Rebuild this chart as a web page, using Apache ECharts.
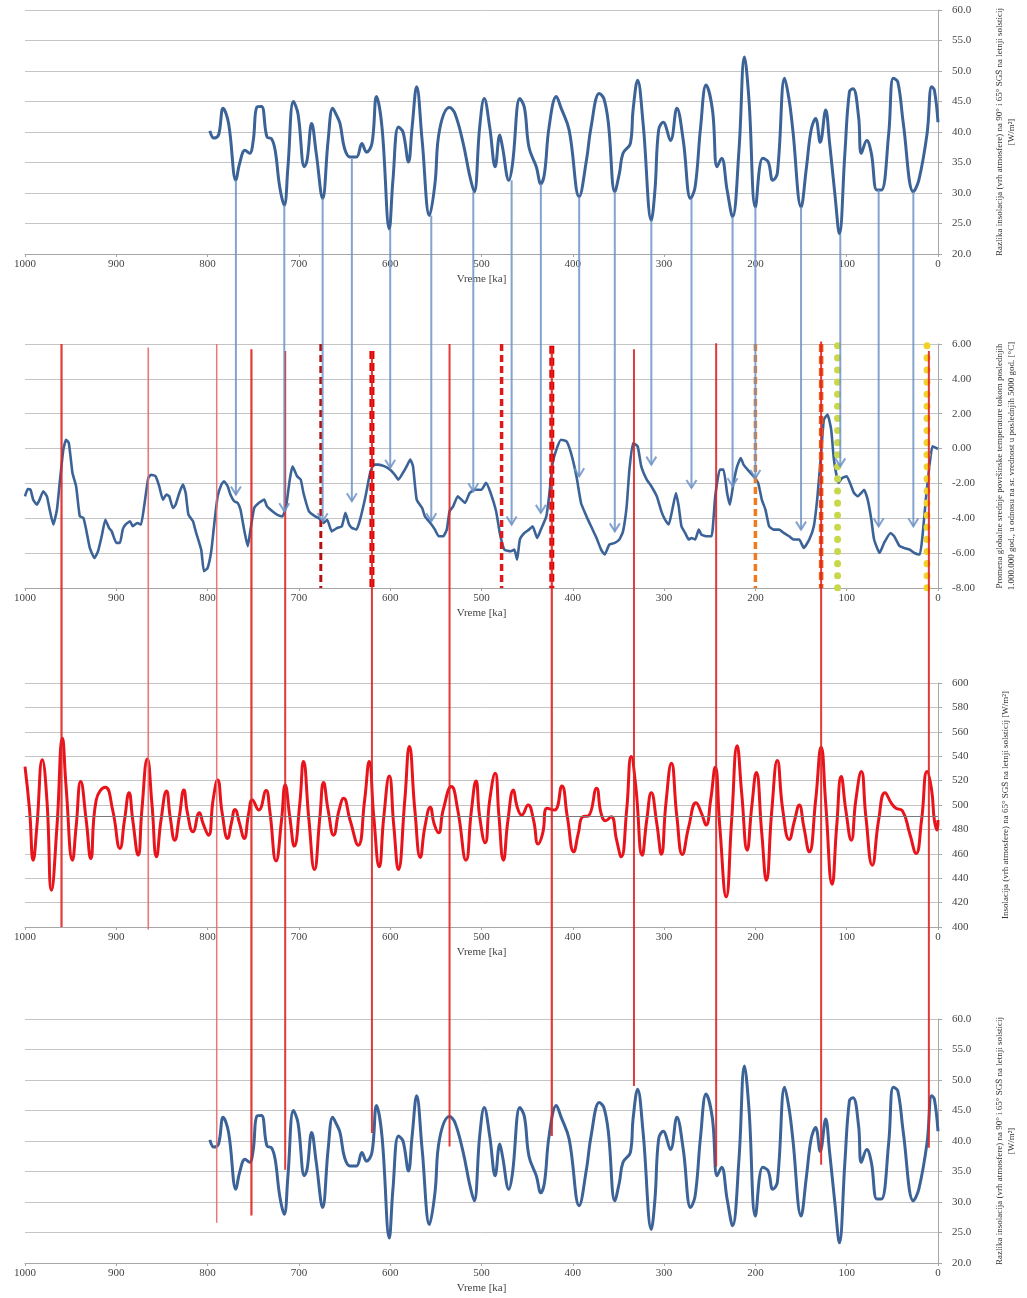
<!DOCTYPE html>
<html><head><meta charset="utf-8">
<script src="https://cdn.jsdelivr.net/npm/echarts@6/dist/echarts.min.js"></script>
<style>html,body{margin:0;padding:0;background:#fff}#c{width:1027px;height:1298px}</style>
</head><body><div id="c"></div>
<script>
// ---------- DATA ----------
// Insolation difference 90N-65N (panel 1 and panel 4)
const diffKa = [797.5,793,788,783,777,769,765,759,754,750,746,741,735,730,726,721,716,712,706,701,694,691,686,681,674,668,663,659,655,650,644,637,631,626,620,615,609,601,597,591,586,580,576,571,565,557,551,546,535,529,520,513,508,502,497,491,485,480,477,470,466,458,453,448,440,435,431,426,418,413,404,393,385,380,371,366,361,354,349,345,337,334,329,323,314,310,306,301,293,286,279,271,266,260,254,247,242,237,231,225,218,212,207,200,192,186,181,176,168,163,159,150,144,139,134,129,123,119,113,108,102,97,93,87,84,78,73,67,62,54,49,44,38,27,21,12,7,4,0];
const diffVal = [40.2,39.0,39.5,43.9,41.4,32.1,34.8,37.0,36.5,38.6,44.1,44.2,39.2,38.9,37.0,31.0,28.0,34.3,45.0,43.0,34.3,35.4,41.4,36.5,29.1,38.6,43.9,42.8,41.4,37.3,35.9,35.9,38.1,36.7,38.1,45.8,40.8,24.1,32.1,40.8,40.0,35.1,40.8,47.4,38.6,26.3,31.5,40.3,44.0,43.0,38.1,32.9,30.2,40.8,45.5,40.8,34.3,39.5,37.5,32.1,34.8,45.5,44.0,37.5,34.3,31.5,33.2,40.8,45.8,44.0,40.3,29.4,35.4,40.8,46.3,45.5,41.4,30.2,33.2,36.5,38.1,43.6,48.5,41.4,25.5,30.5,40.3,41.6,38.6,43.9,38.6,29.1,31.0,40.8,47.7,43.6,34.3,35.7,30.5,26.1,37.0,52.3,45.2,27.7,35.7,35.1,32.1,33.2,48.8,45.2,40.3,27.7,34.3,40.3,42.2,38.3,43.6,38.6,29.9,23.3,36.5,46.6,47.1,42.5,36.5,38.6,36.5,30.5,30.5,39.7,48.8,48.2,41.4,30.2,32.1,39.7,47.4,46.9,41.6];

// Global mean surface temperature change (panel 2)
const tempKa = [1000,997,994,991,987,984,980,976,973,969,965,962,958,955,952,948,944,940,936,933,929,924,920,916,912,908,905,900,896,893,890,885,882,877,873,869,865,862,857,853,849,845,842,838,835,831,827,824,821,816,813,807,804,800,796,793,789,785,782,778,775,771,767,764,760,756,753,749,744,738,735,729,724,718,714,710,707,702,698,695,689,682,676,673,669,664,658,653,649,645,642,637,633,627,622,618,613,606,600,595,591,585,582,578,575,571,565,562,556,551,547,542,538,535,531,526,522,518,513,507,500,495,490,484,480,475,468,464,461,458,453,448,444,439,435,429,426,422,418,413,407,402,396,391,385,380,374,369,365,360,354,349,345,341,338,334,329,325,319,314,308,303,299,295,291,287,284,281,277,273,270,266,262,259,253,248,244,239,235,231,228,224,220,216,213,207,202,197,193,189,185,180,174,169,163,158,152,147,141,136,132,128,125,121,117,114,109,105,100,95,92,88,84,81,77,73,70,64,59,52,48,42,37,31,26,20,17,13,9,6,0];
const tempVal = [-2.74,-2.32,-2.36,-2.93,-3.22,-2.93,-2.45,-2.74,-3.5,-4.36,-3.5,-1.97,-0.06,0.51,0.32,-1.4,-2.16,-3.88,-3.98,-4.65,-5.7,-6.28,-5.89,-5.03,-4.08,-4.55,-4.75,-5.41,-5.41,-4.65,-4.36,-4.17,-4.46,-4.27,-4.36,-3.12,-1.69,-1.5,-1.59,-2.16,-2.93,-2.64,-2.74,-3.41,-3.22,-2.55,-2.07,-2.55,-3.79,-4.17,-4.75,-5.8,-7.04,-6.85,-5.89,-4.46,-2.74,-2.07,-1.88,-2.16,-2.64,-3.02,-3.12,-3.5,-4.65,-5.6,-4.65,-3.41,-3.12,-2.93,-3.31,-3.6,-3.79,-3.89,-3.31,-1.78,-1.02,-1.59,-1.78,-2.55,-3.6,-3.89,-4.08,-4.27,-4.08,-4.75,-4.55,-4.46,-3.69,-4.36,-4.55,-4.65,-4.08,-2.74,-1.4,-0.92,-0.92,-1.02,-1.21,-1.5,-1.78,-1.3,-1.02,-0.63,-1.02,-2.93,-3.41,-3.89,-4.27,-4.65,-5.03,-5.03,-4.65,-3.6,-3.31,-2.74,-2.93,-3.12,-2.55,-2.36,-2.36,-1.97,-2.55,-3.6,-4.84,-5.8,-5.89,-5.8,-6.37,-5.22,-4.84,-4.65,-4.46,-5.13,-4.65,-3.89,-2.74,-0.82,-0.06,0.51,0.42,-0.25,-1.59,-3.12,-3.89,-4.46,-5.13,-5.8,-6.08,-5.51,-5.41,-5.22,-4.75,-3.31,-1.21,0.32,0.13,-1.02,-1.78,-2.16,-2.74,-3.6,-4.08,-4.36,-3.5,-2.55,-3.31,-4.46,-4.84,-5.22,-5.13,-5.22,-4.65,-4.94,-5.03,-5.03,-2.74,-1.21,-1.21,-2.55,-3.22,-1.97,-1.02,-0.54,-0.92,-1.3,-1.59,-1.97,-2.93,-3.5,-4.46,-4.65,-4.65,-4.84,-5.03,-5.22,-5.22,-5.7,-5.22,-4.46,-2.74,-0.25,1.66,1.95,1.09,-0.63,-1.97,-1.69,-1.59,-2.16,-2.55,-2.74,-2.55,-2.36,-2.93,-4.08,-5.22,-5.99,-5.41,-4.84,-5.03,-5.6,-5.7,-5.8,-5.99,-6.08,-5.03,-2.74,-0.82,0.13,-0.02];

// Insolation at 65N, summer solstice (panel 3)
const insKa = [1000,995,991,987,981,976,971,965,959,955,948,944,939,933,928,922,912,904,896,891,886,882,876,872,866,861,856,851,845,841,836,831,826,822,816,809,805,799,794,789,784,778,774,770,765,760,755,751,744,736,732,725,719,715,710,705,699,695,689,683,677,673,668,662,656,651,644,635,628,623,618,612,607,601,596,591,584,579,573,567,562,556,552,547,542,533,526,517,511,506,502,496,491,485,481,476,471,465,461,456,449,443,438,433,428,420,412,406,399,394,389,383,374,369,364,358,352,347,341,336,331,324,319,314,308,303,298,292,286,280,273,265,259,254,249,244,239,232,226,220,215,209,204,199,193,188,182,176,170,163,157,152,147,141,134,128,123,116,111,106,101,95,90,84,79,72,65,58,51,46,39,31,24,18,12,7,4,1,0];
const insVal = [531.5,495.9,454.8,482.2,537,504.1,430.1,482.2,554.8,515.1,454.8,482.2,519.2,487.7,456.2,504.1,514.5,495.9,464.4,487.7,510.1,487.7,458.9,495.9,537.8,501.4,457.5,487.7,511.5,490.4,471.2,490.4,512.3,493.2,478.1,493.7,484.9,475.3,504.1,520.5,493.2,472.6,484.9,496.4,484.9,472.6,493.2,504.1,495.9,511.8,495.9,454.2,487.7,516.4,490.4,466.3,501.4,535.6,487.7,447.1,490.4,518.4,495.9,475.3,495.9,505.5,487.7,467.1,504.1,535.6,490.4,449.3,490.4,523.8,482.2,447.1,504.1,547.9,495.9,457,482.2,498.1,484.9,477.3,495.9,515.1,495.9,454.8,495.9,519.7,490.4,469,504.1,526,492,454.8,487.7,512.3,498.6,491.8,500,487.7,468,476.7,497.3,495.9,515.6,490.4,461.6,476.7,490.4,491,513.7,493.2,487.1,490.4,471.2,457.5,495.9,539.7,515.1,458.9,487.7,510.1,484.9,459.7,501.4,534.2,490.4,459.5,482.2,501.9,493.2,483.6,504.1,531,482.2,424.7,487.7,548.5,509.6,463,498.6,526.6,476.7,438.4,495.9,536.4,495.9,471.8,487.7,500,482.2,461.6,504.1,547.4,501.4,435.1,482.2,523.3,495.9,471.2,504.1,527.4,490.4,450.7,487.7,510.1,501.4,497.3,495.3,476.7,460.3,487.7,527.4,512.3,487.7,479.5,487.7];
const insRefLine = 491;

// Blue arrows: insolation-difference minima (panel 1) -> temperature (panel 2)
const arrowKa   = [769,716,674,642,600,555,509,467,435,393,354,314,270,225,200,150,107,65,27];
const arrowFrom = [32.1,28.0,29.1,35.6,24.1,26.3,30.2,32.1,31.5,29.4,30.2,25.5,29.1,26.1,27.7,27.7,23.3,30.5,30.2];
const arrowTo   = [-2.64,-3.6,-4.17,-3.02,-1.1,-4.17,-2.45,-4.36,-3.69,-1.59,-4.75,-0.92,-2.26,-2.16,-1.69,-4.65,-1.02,-4.46,-4.46];

// Red vertical links: start in panel 2 (temperature), end in panel 3 (insolation) or panel 4 (difference)
const redKa      = [960,865,790,752,715,620,535,423,333,243,128,10];
const redStart   = [6.0,5.8,6.0,5.7,5.6,5.6,6.0,5.8,5.7,6.05,6.15,5.6];
const redEndGrid = [2,2,3,3,3,3,3,3,3,3,3,3];
const redEnd     = [400,398,26.6,27.8,35.3,41.3,39.1,40.8,49.0,35.8,36.1,38.9];
const redWidth   = [2.2,1.6,1.5,2.2,2,2,2,2.2,2,2,2,2];
const redColor   = ['#e02424','#ea6a6a','#ea6a6a','#e02424','#e02424','#e02424','#e02424','#e02424','#e02424','#e02424','#e02424','#e02424'];

// Dashed/dotted markers in panel 2
const markKa    = [676,620,478,423,200,128,110,12];
const markTop   = [6,5.6,6,5.9,6,6,5.9,5.9];
const markColor = ['#b81010','#e00000','#e01818','#e00000','#f07a20','#f05a14','#c8d84a','#f2d22a'];
const markWidth = [3,5,3.5,5,3.5,4.5,7,7];
const markDash  = [[7,4],[8,4],[7,4],[8,4],[7,4],[8,4],[0.1,12],[0.1,12]];

// Axis texts
const xName = 'Vreme [ka]';
const yName1 = 'Razlika insolacija (vrh atmosfere) na 90° i 65° SGŠ na letnji solsticij\n[W/m²]';
const yName2 = 'Promena globalne srednje površinske temperature tokom poslednjih\n1.000.000 god., u odnosu na sr. vrednost u poslednjih 5000 god. [°C]';
const yName3 = 'Insolacija (vrh atmosfere) na 65° SGŠ na letnji solsticij [W/m²]';

// ---------- CHART ----------
const FONT = "'Liberation Serif','Times New Roman',serif";
const zip = (a, b) => a.map((v, i) => [v, b[i]]);
const tops = [10, 344, 683, 1019];
const H = 244;

const grids = tops.map(t => ({ left: 25, right: 89, top: t, height: H, containLabel: false, outerBoundsMode: 'none' }));
const xAxes = tops.map((t, i) => ({
  gridIndex: i, type: 'value', min: 0, max: 1000, interval: 100, inverse: true,
  name: xName, nameLocation: 'middle', nameGap: 20,
  nameTextStyle: { fontFamily: FONT, fontSize: 11, color: '#444' },
  axisLine: { show: true, onZero: false, lineStyle: { color: '#a6a6a6' } },
  axisTick: { show: true, length: 3, lineStyle: { color: '#a6a6a6' } },
  axisLabel: { fontFamily: FONT, fontSize: 11, color: '#444', margin: 5, formatter: v => String(v) },
  splitLine: { show: false }
}));
function yAx(i, min, max, interval, digits, name, gap) {
  return {
    gridIndex: i, type: 'value', position: 'right', min, max, interval,
    name, nameLocation: 'middle', nameRotate: 90, nameGap: gap,
    nameTextStyle: { fontFamily: FONT, fontSize: 9, color: '#333', lineHeight: 12, align: 'center' },
    axisLine: { show: true, lineStyle: { color: '#a6a6a6' } },
    axisTick: { show: true, length: 4, lineStyle: { color: '#a6a6a6' } },
    axisLabel: { fontFamily: FONT, fontSize: 11, color: '#444', margin: 14,
      formatter: v => v.toFixed(digits) },
    splitLine: { show: true, lineStyle: { color: '#c4c4c4', width: 1 } }
  };
}
const yAxes = [
  yAx(0, 20, 60, 5, 1, yName1, 56),
  yAx(1, -8, 6, 2, 2, yName2, 56),
  yAx(2, 400, 600, 20, 0, yName3, 62),
  yAx(3, 20, 60, 5, 1, yName1, 56)
];

const series = [
  { type: 'line', xAxisIndex: 0, yAxisIndex: 0, data: zip(diffKa, diffVal), showSymbol: false, smooth: 0.4,
    lineStyle: { color: '#3c6397', width: 3 }, z: 3 },
  { type: 'line', xAxisIndex: 1, yAxisIndex: 1, data: zip(tempKa, tempVal), showSymbol: false, smooth: 0.15,
    lineStyle: { color: '#3c6397', width: 2.6 }, z: 3 },
  { type: 'line', xAxisIndex: 2, yAxisIndex: 2, data: zip(insKa, insVal), showSymbol: false, smooth: 0.5,
    lineStyle: { color: '#e8131b', width: 3 }, z: 3,
    markLine: { silent: true, symbol: 'none', label: { show: false },
      lineStyle: { color: '#7a7a7a', width: 1, type: 'solid' }, data: [{ yAxis: insRefLine }] } },
  { type: 'line', xAxisIndex: 3, yAxisIndex: 3, data: zip(diffKa, diffVal), showSymbol: false, smooth: 0.4,
    lineStyle: { color: '#3c6397', width: 3 }, z: 3 }
];
markKa.forEach((k, i) => {
  series.push({ type: 'line', xAxisIndex: 1, yAxisIndex: 1, data: [[k, markTop[i]], [k, -8]],
    showSymbol: false, silent: true, z: 4,
    lineStyle: { color: markColor[i], width: markWidth[i], type: markDash[i], cap: i >= 6 ? 'round' : 'butt' } });
});

const chart = echarts.init(document.getElementById('c'), null, { renderer: 'canvas' });
chart.setOption({ animation: false, backgroundColor: '#fff', grid: grids, xAxis: xAxes, yAxis: yAxes, series });

// Cross-panel annotation lines, positioned through the chart's own axes
const px = (g, k, v) => chart.convertToPixel({ gridIndex: g }, [k, v]);
const graphics = [];
redKa.forEach((k, i) => {
  const a = px(1, k, redStart[i]);
  const b = px(redEndGrid[i], k, redEnd[i]);
  graphics.push({ type: 'line', z: 50, silent: true,
    shape: { x1: a[0], y1: a[1], x2: b[0], y2: b[1] },
    style: { stroke: redColor[i], lineWidth: redWidth[i], opacity: 0.9 } });
});
arrowKa.forEach((k, i) => {
  const a = px(0, k, arrowFrom[i]);
  const b = px(1, k, arrowTo[i]);
  graphics.push({ type: 'line', z: 60, silent: true,
    shape: { x1: a[0], y1: a[1], x2: b[0], y2: b[1] },
    style: { stroke: '#6f93c6', lineWidth: 2, opacity: 0.85 } });
  graphics.push({ type: 'polyline', z: 60, silent: true,
    shape: { points: [[b[0] - 5, b[1] - 8], [b[0], b[1]], [b[0] + 5, b[1] - 8]] },
    style: { stroke: '#6f93c6', lineWidth: 2, fill: null, opacity: 0.85 } });
});
chart.setOption({ graphic: graphics });
</script></body></html>
